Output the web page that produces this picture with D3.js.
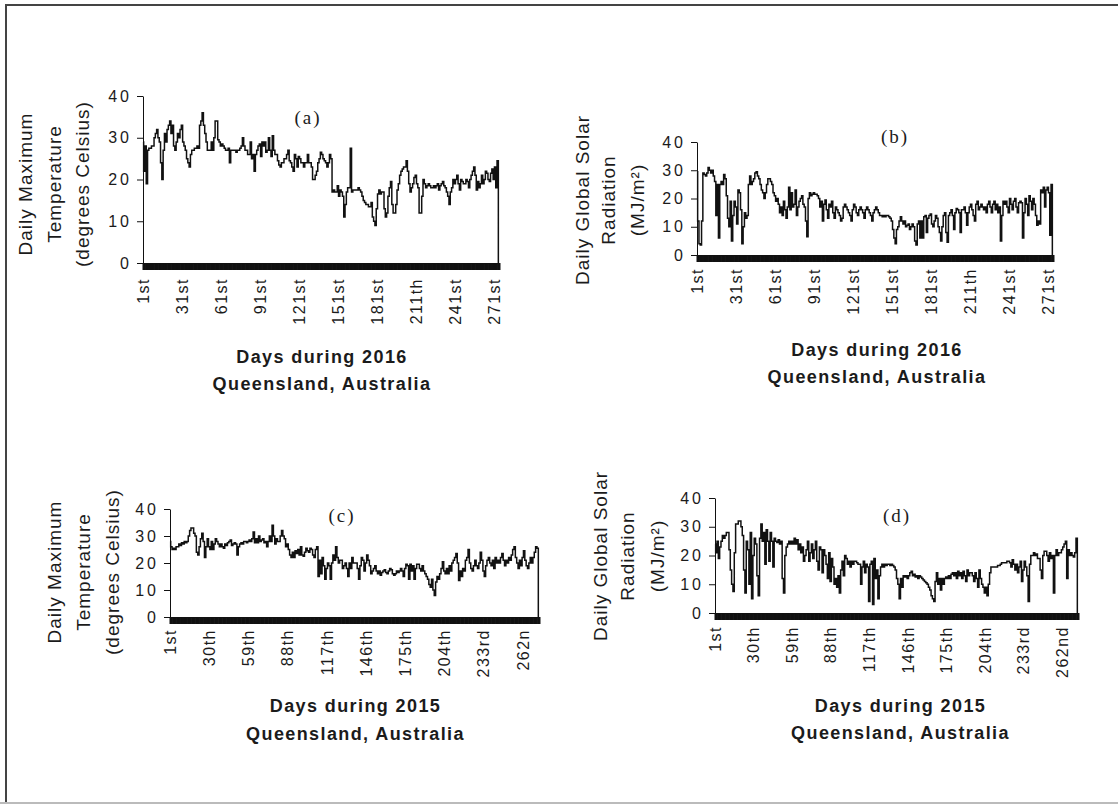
<!DOCTYPE html>
<html>
<head>
<meta charset="utf-8">
<script src="https://cdn.jsdelivr.net/npm/d3@7"></script>
<style>
  body { margin: 0; background: #fff; }
  text { font-family: "Liberation Sans", Arial, sans-serif; fill: #1b1b1b; }
  .tick line, .domain { stroke: #111; }
</style>
</head>
<body>
<svg id="chart" width="1118" height="804"></svg>
<script>
// ---------------- data ----------------

// (a) daily maximum temperature, 2016 (degrees Celsius)
var temp2016 = [29,22,28,19,27,27.5,27.5,28,28,30,
  31,32,30,29,24,20,27,31,29,32,
  33,34,31,33,28,27,29,31,30,32,
  33,29,28,27,25,24,23,26,27,27,
  27.5,27.5,28,27.5,33,34,36,33,31,29,
  27,27,27,29,27,30,34,34,29.5,29,
  28,28.5,28,27.5,27,27,27.5,24,27,27,
  27,27,26.5,27,27,27.5,28,30,28,27,
  27,26,26,29,25,26,22,26,27,28,
  28.5,25.5,29,28,29,26.5,27,30,27,25.5,
  30.5,27,26,26,24.5,23.5,23,24,24,25,
  25,26,27,24.5,24,23,22,26,25,23,
  25.5,25,24,24,23,24,24,26,24,24,
  23,20,20,21,22,24,25,26.5,26,25,
  24.5,24,23,24,26,25,17,17.5,17,17,
  18.5,16,17.5,17,16,11,14,17,18,18,
  27.5,17,17.5,17.5,17.5,17.5,18,17.5,17,16,
  15,14.5,14,14,13.5,13.5,14.5,11,10,9,
  13,16.5,17.5,16.5,17,17,13,11,12,16,
  18,19.5,14,12,12,14,17.5,19,21,22,
  22.5,23,23,24.5,22,19,17,18,19,20.5,
  21,19,18,12,12,16,20,19,18,18.5,
  19,18.5,18,18,18.5,18,18.5,19,17.5,18.5,
  19,19.5,18.5,18,17,16,14,17,18,20,
  19,20,21,19,17.5,20,19.5,19,19,20,
  19.5,18,20,21,22,23,21,17.5,19.5,18,
  19,21,19,20,22,21.5,20,19.5,21.5,22.5,
  20,23,18,24.5,0];

// (b) daily global solar radiation, 2016 (MJ/m2)
var solar2016 = [29.5,12,4,3.5,12,29,28.5,28,29,31,
  30,29,30,28,26,14,25,6,25,26,
  25,28.5,27,21,13,10,19,5,14,19,
  17,11,23,22,16,4,10,15,13,14,
  25,28,25,26,27,29,29.5,28,27,25,
  23,22,20,22,25,27,27,26,25,22,
  21,19,20,18,15,17,14,19,16,13,
  17,24,16,22,17,18,23,14,17,19,
  20,21,18,17,12,6.5,20,22,21,21.5,
  22,21.5,21.5,21,20,17,19,12,18,19.5,
  16,13,18,17,19,15,13,17,16,15,
  14,12,13,17,18,17,16,15,14,12,
  16,18,17,15,14,16,17,16,15,13,
  16,17,16,15,14,12,15,16,17,16,
  15,14,14,13.5,14,13.5,14,14,13.5,13,
  12,9,6,4,9,10,12,13.5,12,11,
  12,10,10.5,11,9,10,11,10,5,3.5,
  11,12,6,12,6,13.5,14,8,13,14,
  14.5,11,10,12,14,13,10,8,5,10,
  14,15,8,4.5,14,15,16,14,9,15,
  16.5,16,15,8,16,16,17,15,10.5,15,
  17,18,16,14,12,18,19,16,17,18,
  17,16,17,15,18,19,17,15,18,19,
  16,18,15,17,5,14,19,18,19,17,
  15,20,18,16,19,20,17,15,18.5,19,
  18.5,6,15,20,18,14,21,19,16,20,
  18,14,10.5,12,11,23,22,24,17,23,
  24,22,7,25,0];

// (c) daily maximum temperature, 2015
var temp2015 = [28,26,25,25.5,25,26,26,27,26.5,27.5,
  27,28,27.5,28,30,32,33,33,31,30,
  24,23,26,29,31,28,22,26,29,26,
  25,28,25,27,29,28,27,26,27,26,
  25.5,27,26.5,27.5,28,28.5,26.5,27,27.5,27,
  23,26,27,27.5,27,28,28,27.5,28,28.5,
  28,29,31.5,27.5,29,27.5,30,28,28.5,29,
  27.5,28,26,28,30,28,34,30,27,29,
  28,28,30,32,30,29,26,27,25,23,
  22,24,22,24.5,23.5,25,23,26,23,22.5,
  24,25.5,24.5,24,25.5,25,23,22,25,26,
  15,21,16,22,19,14,18,20,19,14,
  20,23,21,26,22,20,21,21,18,19,
  20,18,15,20,18,22,20,20,20,18,
  14,19,22,21,17,20,23,21,19,16,
  17,18,19,17,16,17,15.5,16.5,17,17.5,
  16.5,16,17,18,17.5,16,15.5,16,17,16.5,
  17,18,17,15,18,19.5,19,14,19.5,17,
  19,14,18,19.5,19.5,18,17,19,17,16,
  15,14,12,11,14,10,8,13,15,14,
  16,18,20.5,17,16,18,16,19,17,20,
  21,22,23.5,20,13.5,17,15,18,17,21,
  22,25,20,18,17,19,21,19,18,20,
  24,21,17,15,19,21,22,20,19,21,
  18,22,20,21,20,22,23.5,21,19,21,
  20,22,21,23,25,26,22,20,18,21,
  19,22,24.5,21,19,18,20,22,20,22,
  24,26,25.5,0];

// (d) daily global solar radiation, 2015
var solar2015 = [24,21,25,19,23,25,27,26,27,28,
  28,22,15,10,7.5,21,31,31,32,32,
  30,27,15,7,25,22,10,28,5,20,
  26,24,13,6,26,31,25,28,17,29,
  25,18,28,25,16,26,25,24.5,25.5,24,
  25,12,7,20,23,24,25,24,25,24,
  26,24,25.5,22,24,21,23,18,20,22,
  25,18,21,24,19,22,25,18,15,23,
  22,14,22,20,17,12,21,11,19,16,
  10,12,9,13,7,15,18,13,20,19,
  17,18,16,18,17,18,18,17.5,17,17,
  10,16,18,14,17,16,4,17,18,3,
  19,12,15,5,13,16,17,16,17,16.5,
  17,17,16.5,17,16.5,16,15,12,10,5,
  12,9,13,12.5,13,12,13,14,14.5,13,
  13.5,12.5,13,12,13,12.5,12,11.5,11,10.5,
  10,9,8,6,5,4,11,14,10,12,
  8,12,10,12,12.5,12,13,12,13.5,14,
  13,14,12,14.5,13,14,12,14.5,13,11,
  15,13,14,14,13,11,14,12,9,15,
  12,10,9,7,9,6,10,14,16,16,
  16,16,16,16.5,16.5,17,17.5,17.5,17.5,17.5,
  18,18,17.5,16,18.5,17,15,17,14,16,
  18,11,15,18,16,13,4,17,20,20,
  21,20,20.5,19,19,15,12,20,21.5,21.5,
  20,18,21,19,20,7,20,22,20,21,
  21,22,23,24,25,12,22,20,21,20,
  19.5,21,26,0];

var yTicks = [0, 10, 20, 30, 40];
var labelDays2016 = [1, 31, 61, 91, 121, 151, 181, 211, 241, 271];
var labelText2016 = ["1st","31st","61st","91st","121st","151st","181st","211th","241st","271st"];
var labelDays2015 = [1, 30, 59, 88, 117, 146, 175, 204, 233, 262];
var labelTextC = ["1st","30th","59th","88th","117th","146th","175th","204th","233rd","262n"];
var labelTextD = ["1st","30th","59th","88th","117th","146th","175th","204th","233rd","262nd"];

var titleTemp = ["Daily Maximum", "Temperature", "(degrees Celsius)"];
var titleSolar = ["Daily Global Solar", "Radiation", "(MJ/m\u00B2)"];

// ---------------- drawing ----------------

var svg = d3.select("#chart");

// page frame
svg.append("line").attr("x1", 6).attr("x2", 6).attr("y1", 4).attr("y2", 804)
  .attr("stroke", "#444").attr("stroke-width", 2);
svg.append("line").attr("x1", 5).attr("x2", 1118).attr("y1", 5).attr("y2", 5)
  .attr("stroke", "#444").attr("stroke-width", 2);
svg.append("line").attr("x1", 0).attr("x2", 1118).attr("y1", 803).attr("y2", 803)
  .attr("stroke", "#bbb").attr("stroke-width", 2);

function drawPanel(p) {
  var n = p.values.length;
  var x = d3.scaleLinear().domain([1, n]).range([p.left, p.right]);
  var y = d3.scaleLinear().domain([0, 40]).range([p.bottom, p.top]);
  var g = svg.append("g");

  // one tick per day -> the thick black band under the axis
  g.append("g")
    .attr("transform", "translate(0," + p.bottom + ")")
    .call(d3.axisBottom(x).tickValues(d3.range(1, n + 1)).tickSize(7).tickSizeOuter(7).tickFormat(""))
    .selectAll("line").attr("stroke-width", 2);

  var yAxis = g.append("g")
    .attr("transform", "translate(" + p.left + ",0)")
    .call(d3.axisLeft(y).tickValues(yTicks).tickSize(6).tickSizeOuter(0).tickPadding(5));
  yAxis.selectAll("text")
    .style("font-size", "16px")
    .style("letter-spacing", "3px")
    .style("font-family", "'Liberation Sans', Arial, sans-serif");

  // rotated day labels
  g.selectAll(".dayLabel")
    .data(p.labelDays)
    .enter().append("text")
      .attr("class", "dayLabel")
      .attr("transform", function(d) { return "translate(" + x(d) + "," + p.labelTop + ") rotate(-90)"; })
      .attr("text-anchor", "end")
      .attr("dy", "0.36em")
      .style("font-size", "16px")
      .style("letter-spacing", "1.5px")
      .text(function(d, i) { return p.labelText[i]; });

  // the series
  var line = d3.line()
    .x(function(d, i) { return x(i + 1); })
    .y(function(d) { return y(d); })
    .curve(d3.curveStep);

  g.append("path")
    .datum(p.values)
    .attr("fill", "none")
    .attr("stroke", "#111")
    .attr("stroke-width", 1.5)
    .attr("d", line);

  // panel letter
  g.append("text")
    .attr("x", p.tag[0]).attr("y", p.tag[1])
    .attr("text-anchor", "middle")
    .attr("dominant-baseline", "central")
    .style("font-family", "'Liberation Serif', 'Times New Roman', serif")
    .style("font-size", "19px")
    .style("letter-spacing", "2px")
    .text(p.tagText);

  // y title, three rotated lines
  p.yTitle.forEach(function(t, i) {
    g.append("text")
      .attr("transform", "translate(" + p.yTitleX[i] + "," + p.yTitleY + ") rotate(-90)")
      .attr("text-anchor", "middle")
      .attr("dominant-baseline", "central")
      .style("font-size", "19px")
      .style("letter-spacing", "1px")
      .text(t);
  });

  // x title
  var cx = (p.left + p.right) / 2 + p.xTitleShift;
  [p.xTitle, "Queensland, Australia"].forEach(function(t, i) {
    g.append("text")
      .attr("x", cx).attr("y", p.xTitleY[i])
      .attr("text-anchor", "middle")
      .style("font-size", "18px")
      .style("font-weight", "bold")
      .style("letter-spacing", "1.4px")
      .text(t);
  });
}

drawPanel({
  values: temp2016, left: 143, right: 499, top: 96, bottom: 263, labelTop: 278,
  labelDays: labelDays2016, labelText: labelText2016,
  tag: [308, 117], tagText: "(a)",
  yTitle: titleTemp, yTitleX: [25, 54, 82], yTitleY: 184,
  xTitle: "Days during 2016", xTitleShift: 1, xTitleY: [363, 390]
});

drawPanel({
  values: solar2016, left: 697, right: 1053, top: 142, bottom: 255, labelTop: 268,
  labelDays: labelDays2016, labelText: labelText2016,
  tag: [895, 136], tagText: "(b)",
  yTitle: titleSolar, yTitleX: [582, 608, 637], yTitleY: 200,
  xTitle: "Days during 2016", xTitleShift: 2, xTitleY: [356, 383]
});

drawPanel({
  values: temp2015, left: 170, right: 539, top: 509, bottom: 617, labelTop: 629,
  labelDays: labelDays2015, labelText: labelTextC,
  tag: [342, 515], tagText: "(c)",
  yTitle: titleTemp, yTitleX: [54, 83, 112], yTitleY: 572,
  xTitle: "Days during 2015", xTitleShift: 1, xTitleY: [712, 740]
});

drawPanel({
  values: solar2015, left: 715, right: 1078, top: 498, bottom: 613, labelTop: 626,
  labelDays: labelDays2015, labelText: labelTextD,
  tag: [897, 515], tagText: "(d)",
  yTitle: titleSolar, yTitleX: [600, 627, 657], yTitleY: 556,
  xTitle: "Days during 2015", xTitleShift: 4, xTitleY: [712, 739]
});
</script>
</body>
</html>
